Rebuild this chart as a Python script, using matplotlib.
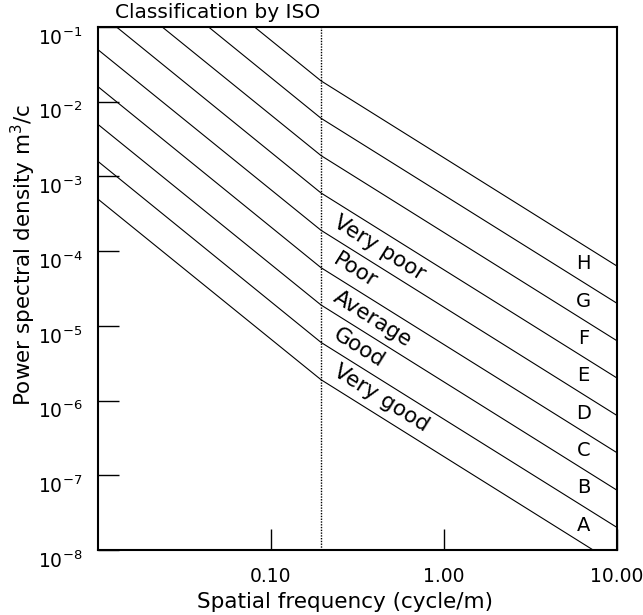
import numpy as np
import matplotlib
matplotlib.use('Agg')
import matplotlib.pyplot as plt
from matplotlib.ticker import NullLocator
from matplotlib.transforms import ScaledTranslation

plt.rcParams['font.family'] = ['DejaVu Sans']
plt.rcParams['mathtext.default'] = 'regular'

# spatial frequency (cycle/m): left edge, break point, right edge
freq = [0.01, 0.195, 10.0]

# class boundary lines, lowest to highest (m^3/cycle)
psd_low = [5.0e-4, 1.6e-3, 5.0e-3, 1.6e-2, 5.0e-2, 1.6e-1, 5.0e-1, 1.6, 5.0]
psd_break = [1.9e-6, 6.0e-6, 1.9e-5, 6.0e-5, 1.9e-4, 6.0e-4, 1.9e-3, 6.0e-3, 1.9e-2]
psd_high = [6.3e-9, 2.0e-8, 6.3e-8, 2.0e-7, 6.3e-7, 2.0e-6, 6.3e-6, 2.0e-5, 6.3e-5]

classes = ['A', 'B', 'C', 'D', 'E', 'F', 'G', 'H']
quality = ['Very good', 'Good', 'Average', 'Poor', 'Very poor']

xticks = [0.1, 1.0, 10.0]
xticklabels = ['0.10', '1.00', '10.00']
yexp = [-8, -7, -6, -5, -4, -3, -2, -1]


def line_at(i, x):
    # log-log interpolation along boundary line i
    lx = np.log10(freq)
    ly = np.log10([psd_low[i], psd_break[i], psd_high[i]])
    return 10 ** np.interp(np.log10(x), lx, ly)


fig = plt.figure(figsize=(6.43, 6.15), dpi=100)
ax = fig.add_axes([0.152, 0.1057, 0.8077, 0.8504])

for i in range(len(psd_low)):
    ax.plot(freq, [psd_low[i], psd_break[i], psd_high[i]], color='black', lw=0.8)

ax.axvline(freq[1], color='black', lw=1.0, ls=(0, (1, 1)))

ax.set_xscale('log')
ax.set_yscale('log')
ax.set_xlim(0.01, 10)
ax.set_ylim(1e-8, 1e-1)

ax.set_xticks(xticks)
ax.set_xticklabels(xticklabels)
ax.set_yticks([10.0 ** e for e in yexp])
ax.set_yticklabels([r'$10^{%d}$' % e for e in yexp])
ax.xaxis.set_minor_locator(NullLocator())
ax.yaxis.set_minor_locator(NullLocator())
ax.tick_params(axis='both', direction='in', length=15, width=1.0, labelsize=13.5)
ax.tick_params(axis='x', pad=12)
ax.tick_params(axis='y', pad=11)
shift = ScaledTranslation(0, -9 / 100, fig.dpi_scale_trans)
for lab in ax.get_yticklabels():
    lab.set_transform(lab.get_transform() + shift)

for s in ax.spines.values():
    s.set_linewidth(1.5)

# class letters near the right edge
for i, c in enumerate(classes):
    y = np.sqrt(line_at(i, 6.4) * line_at(i + 1, 6.4))
    ax.text(6.4, y, c, ha='center', va='center', fontsize=14)

# quality labels along the bands
for i, q in enumerate(quality):
    y = np.sqrt(line_at(i, 0.235) * line_at(i + 1, 0.235))
    ax.text(0.235, y, q, ha='left', va='center', fontsize=15.5,
            rotation=-32, rotation_mode='anchor')

ax.text(0.033, 1.027, 'Classification by ISO', transform=ax.transAxes,
        ha='left', va='center', fontsize=14.5)
ax.set_xlabel('Spatial frequency (cycle/m)', fontsize=15.5)
ax.xaxis.set_label_coords(0.476, -0.08)
ax.set_ylabel('Power spectral density m$^3$/c', fontsize=15.5)
ax.yaxis.set_label_coords(-0.115, 0.564)

fig.savefig('out.png', dpi=100)
